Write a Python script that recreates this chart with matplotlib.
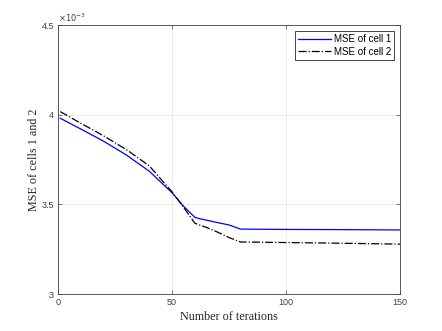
import matplotlib
matplotlib.use("Agg")
import matplotlib.pyplot as plt

# Data (MSE values in units of 1e-3)
iters = [1, 10, 20, 30, 40, 50, 55, 60, 62, 65, 70, 75, 80, 100, 125, 150]
mse_cell1 = [3.980, 3.920, 3.852, 3.775, 3.685, 3.565, 3.490, 3.428, 3.420, 3.412, 3.398, 3.385, 3.362, 3.360, 3.359, 3.357]
mse_cell2 = [4.017, 3.952, 3.882, 3.805, 3.715, 3.570, 3.485, 3.395, 3.385, 3.372, 3.345, 3.315, 3.290, 3.287, 3.283, 3.278]
yticks = [3, 3.5, 4, 4.5]
ytick_labels = ["3", "3.5", "4", "4.5"]
xticks = [0, 50, 100, 150]

fig = plt.figure(figsize=(4.42, 3.31), dpi=100)
ax = fig.add_axes([58/442, 1 - 294/331, (400-58)/442, (294-25)/331])

ax.plot(iters, mse_cell1, color="#0000ff", lw=0.9, label="MSE of cell 1")
ax.plot(iters, mse_cell2, color="black", lw=0.9, ls="-.", label="MSE of cell 2")

ax.set_xlim(0, 150)
ax.set_ylim(3, 4.5)
ax.set_xticks(xticks)
ax.set_yticks(yticks)
ax.set_yticklabels(ytick_labels)
for lab in ax.get_xticklabels() + ax.get_yticklabels():
    lab.set_fontfamily("Liberation Sans")
    lab.set_fontsize(6.5)
    lab.set_color("#404040")
ax.tick_params(direction="in", length=3, width=0.5, colors="#404040", top=True, right=True, pad=3)
ax.grid(True, color="#e6e6e6", lw=0.5)
ax.set_axisbelow(True)
for s in ax.spines.values():
    s.set_linewidth(0.6)
    s.set_color("#404040")

ax.text(0.0, 1.003, r"$\times10^{-3}$", transform=ax.transAxes, fontsize=6,
        family="Liberation Sans", color="#404040", va="bottom", ha="left")

ax.set_xlabel("Number of terations", family="Liberation Serif", fontsize=8.7, labelpad=2.5, color="#262626")
ax.set_ylabel("MSE of cells 1 and 2", family="Liberation Serif", fontsize=8.7, labelpad=1, color="#262626")

leg = ax.legend(loc="upper right", prop=dict(family="Liberation Sans", size=7),
                fancybox=False, framealpha=1, edgecolor="#262626",
                borderpad=0.35, handlelength=3.4, handletextpad=0.25, labelspacing=0.25,
                borderaxespad=0.6)
leg.get_frame().set_linewidth(0.6)

fig.savefig("out.png", dpi=100)
